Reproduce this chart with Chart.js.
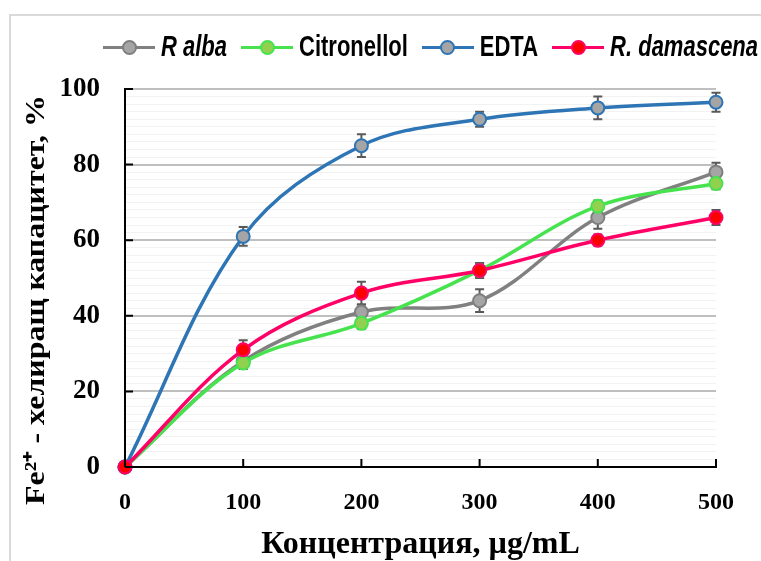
<!DOCTYPE html>
<html>
<head>
<meta charset="utf-8">
<script src="https://cdn.jsdelivr.net/npm/chart.js@4.4.1/dist/chart.umd.min.js"></script>
<style>
  html, body { margin: 0; padding: 0; background: #fff; }
  #wrap { position: relative; width: 761px; height: 561px; overflow: hidden; }
  #frame { position: absolute; left: 9px; top: 14px; right: -5px; bottom: -5px;
           border-left: 2px solid #d9d9d9; border-top: 2px solid #d9d9d9; }
  #chart { position: absolute; left: 0; top: 0; }
  #legend { position: absolute; left: 103px; top: 33px; height: 28px; display: flex; align-items: center;
            white-space: nowrap; width: 700px;
            font-family: "Liberation Sans", Arial, sans-serif; font-weight: bold; font-size: 22px; color: #000; }
  .item { display: flex; align-items: center; margin-right: 14px; flex-shrink: 0; }
  .sw { position: relative; width: 52px; height: 20px; margin-right: 6px; }
  .sw .ln { position: absolute; left: 0; right: 0; top: 8.5px; height: 3px; }
  .sw .mk { position: absolute; left: 18.5px; top: 3px; width: 11px; height: 11px; border-radius: 50%; border: 2px solid; }
  .tx { display: inline-block; transform: scaleY(1.3); }
  .it { font-style: italic; }
</style>
</head>
<body>
<div id="wrap">
  <div id="frame"></div>
  <canvas id="chart" width="761" height="561"></canvas>
  <div id="legend"></div>
</div>
<script>
  // concentrations, µg/mL
  const concentrations = [0, 100, 200, 300, 400, 500];

  // chelating capacity, %
  const rAlba = [0, 28, 41, 44, 66, 78];
  const citronellol = [0, 27.5, 38, 52, 69, 75];
  const edta = [0, 61, 85, 92, 95, 96.5];
  const rDamascena = [0, 31, 46, 52, 60, 66];

  // error bars (±)
  const rAlbaErr = [0, 2, 2, 3, 3, 2.5];
  const citronellolErr = [0, 1.5, 1.5, 1.5, 1.5, 1.5];
  const edtaErr = [0, 2.5, 3, 2, 3, 2.5];
  const rDamascenaErr = [0, 2.5, 3, 2, 1.5, 2];

  const seriesNames = ["R alba", "Citronellol", "EDTA", "R. damascena"];
  const italicNames = [true, false, false, true];

  const yTicks = [0, 20, 40, 60, 80, 100];
  const xTicks = [0, 100, 200, 300, 400, 500];

  const styles = [
    { line: "#808080", fill: "#a5a5a5", edge: "#7f7f7f" },
    { line: "#47e34f", fill: "#92d050", edge: "#47e34f" },
    { line: "#2e75b6", fill: "#a5a5a5", edge: "#2e75b6" },
    { line: "#ff0066", fill: "#ff0000", edge: "#ff0066" },
  ];

  const values = [rAlba, citronellol, edta, rDamascena];
  const errors = [rAlbaErr, citronellolErr, edtaErr, rDamascenaErr];
  const drawOrder = [4, 3, 2, 1];

  function toPoints(arr) {
    return arr.map((v, i) => ({ x: concentrations[i], y: v }));
  }

  const datasets = values.map((arr, i) => ({
    label: seriesNames[i],
    data: toPoints(arr),
    errors: errors[i],
    borderColor: styles[i].line,
    backgroundColor: styles[i].fill,
    pointBackgroundColor: styles[i].fill,
    pointBorderColor: styles[i].edge,
    pointBorderWidth: 2,
    pointRadius: 6.5,
    borderWidth: 3.5,
    tension: 0.35,
    clip: false,
    order: drawOrder[i],
  }));

  // legend as html so the italic names stay italic
  const legendBox = document.getElementById("legend");
  seriesNames.forEach((name, i) => {
    const item = document.createElement("div");
    item.className = "item";
    item.innerHTML =
      `<div class="sw"><div class="ln" style="background:${styles[i].line}"></div>` +
      `<div class="mk" style="background:${styles[i].fill};border-color:${styles[i].edge}"></div></div>` +
      `<span class="tx ${italicNames[i] ? "it" : ""}">${name}</span>`;
    legendBox.appendChild(item);
  });

  // error bars, drawn under the lines and markers
  const errorBars = {
    id: "errorBars",
    beforeDatasetsDraw(chart) {
      const ctx = chart.ctx;
      const xs = chart.scales.x;
      const ys = chart.scales.y;
      ctx.save();
      ctx.strokeStyle = "#595959";
      ctx.lineWidth = 2;
      chart.data.datasets.forEach((ds) => {
        ds.data.forEach((p, i) => {
          const e = ds.errors[i];
          if (!e) return;
          const x = xs.getPixelForValue(p.x);
          const y1 = ys.getPixelForValue(p.y + e);
          const y2 = ys.getPixelForValue(p.y - e);
          ctx.beginPath();
          ctx.moveTo(x, y1);
          ctx.lineTo(x, y2);
          ctx.moveTo(x - 4.5, y1);
          ctx.lineTo(x + 4.5, y1);
          ctx.moveTo(x - 4.5, y2);
          ctx.lineTo(x + 4.5, y2);
          ctx.stroke();
        });
      });
      ctx.restore();
    },
  };

  // inward tick marks and rotated y title
  const axisExtras = {
    id: "axisExtras",
    afterDraw(chart) {
      const ctx = chart.ctx;
      const xs = chart.scales.x;
      const ys = chart.scales.y;
      const area = chart.chartArea;
      ctx.save();
      ctx.strokeStyle = "#000";
      ctx.lineWidth = 2;
      ctx.beginPath();
      yTicks.forEach((v) => {
        const y = ys.getPixelForValue(v);
        ctx.moveTo(area.left, y);
        ctx.lineTo(area.left + 8, y);
      });
      xTicks.forEach((v) => {
        const x = xs.getPixelForValue(v);
        ctx.moveTo(x, area.bottom);
        ctx.lineTo(x, area.bottom - 8);
      });
      ctx.stroke();

      ctx.translate(37, 300);
      ctx.rotate(-Math.PI / 2);
      ctx.scale(1.14, 1);
      ctx.fillStyle = "#000";
      ctx.font = "bold 28px 'Liberation Serif'";
      ctx.textAlign = "center";
      ctx.textBaseline = "middle";
      ctx.fillText("Fe²⁺ - хелиращ капацитет, %", 0, 0);
      ctx.restore();
    },
  };

  new Chart(document.getElementById("chart"), {
    type: "line",
    data: { datasets: datasets },
    plugins: [errorBars, axisExtras],
    options: {
      responsive: false,
      animation: false,
      layout: { padding: { top: 89, right: 45, left: 0, bottom: 0 } },
      plugins: { legend: { display: false }, tooltip: { enabled: false } },
      scales: {
        x: {
          type: "linear",
          min: 0,
          max: 500,
          afterFit: (s) => { s.height = 94; },
          grid: { display: false, drawTicks: false },
          border: { display: true, color: "#000", width: 2 },
          ticks: {
            stepSize: 100,
            padding: 21,
            color: "#000",
            font: { family: "'Liberation Serif'", weight: "bold", size: 24 },
          },
          title: {
            display: true,
            text: "Концентрация, µg/mL",
            color: "#000",
            padding: { top: 0, bottom: -3 },
            font: { family: "'Liberation Serif'", weight: "bold", size: 32 },
          },
        },
        y: {
          min: 0,
          max: 100,
          afterFit: (s) => { s.width = 125; },
          grid: {
            drawTicks: false,
            color: (c) => (c.tick.value % 20 === 0 ? "#bfbfbf" : "#f2f2f2"),
            lineWidth: (c) => (c.tick.value % 20 === 0 ? 2 : 1),
          },
          border: { display: true, color: "#000", width: 2 },
          ticks: {
            stepSize: 2,
            autoSkip: false,
            padding: 25,
            color: "#000",
            font: { family: "'Liberation Serif'", weight: "bold", size: 27 },
            callback: (v) => (v % 20 === 0 ? v : ""),
          },
        },
      },
    },
  });
</script>
</body>
</html>
